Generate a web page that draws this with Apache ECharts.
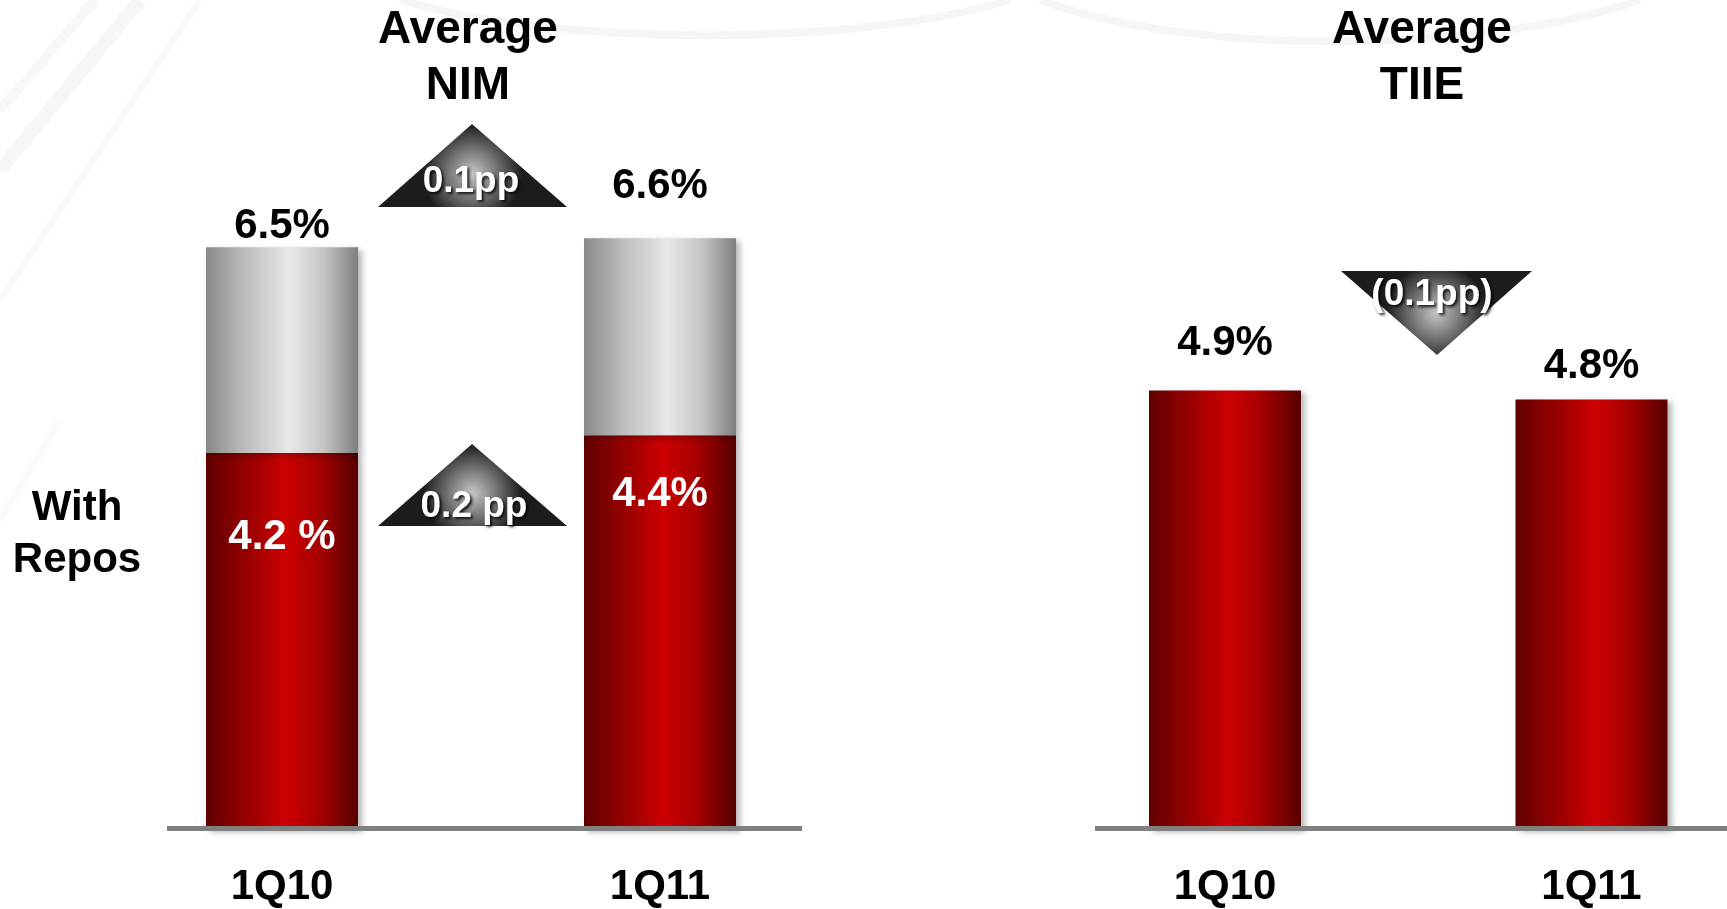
<!DOCTYPE html>
<html>
<head>
<meta charset="utf-8">
<script src="https://cdn.jsdelivr.net/npm/echarts@6/dist/echarts.min.js"></script>
<style>
html,body{margin:0;padding:0;background:#fff;}
#chart{width:1727px;height:909px;}
</style>
</head>
<body>
<div id="chart"></div>
<script>
// ---- data ----
var categories = ['1Q10', '1Q11'];
var nimTotal = [6.5, 6.6];          // Average NIM (top labels)
var nimWithRepos = [4.2, 4.4];      // With Repos (red segment)
var nimRepoLabels = ['4.2 %', '4.4%'];
var tiie = [4.9, 4.8];              // Average TIIE
var deltaLabels = ['0.1pp', '0.2 pp', '(0.1pp)'];
var panelTitles = ['Average\nNIM', 'Average\nTIIE'];
var sideLabel = 'With\nRepos';

var nimRest = nimTotal.map(function (t, i) { return +(t - nimWithRepos[i]).toFixed(1); });

// label offsets (style only)
var nimTopDist = [0, 31];
var nimRepoDist = [63, 38];
var tiieDist = [26, 12];

var FONT = '"Liberation Sans", Arial, sans-serif';

var redGrad = new echarts.graphic.LinearGradient(0, 0, 1, 0, [
  { offset: 0, color: '#600000' },
  { offset: 0.22, color: '#8e0000' },
  { offset: 0.52, color: '#cc0000' },
  { offset: 0.74, color: '#a80000' },
  { offset: 1, color: '#560000' }
]);
var greyGrad = new echarts.graphic.LinearGradient(0, 0, 1, 0, [
  { offset: 0, color: '#888888' },
  { offset: 0.25, color: '#bcbcbc' },
  { offset: 0.55, color: '#e8e8e8' },
  { offset: 0.78, color: '#c4c4c4' },
  { offset: 1, color: '#7e7e7e' }
]);
var barShadow = { shadowColor: 'rgba(0,0,0,0.28)', shadowBlur: 6, shadowOffsetX: 4, shadowOffsetY: 3 };

function triGrad(cy) {
  return new echarts.graphic.RadialGradient(0.5, cy, 0.6, [
    { offset: 0, color: '#c6c6c6' },
    { offset: 0.45, color: '#7c7c7c' },
    { offset: 1, color: '#1c1c1c' }
  ]);
}
function triText(txt, x, y) {
  return {
    type: 'text', x: x, y: y, z: 20,
    style: {
      text: txt, fill: '#ffffff', font: 'bold 37px ' + FONT,
      textAlign: 'center', textVerticalAlign: 'middle',
      textShadowColor: 'rgba(0,0,0,0.85)', textShadowBlur: 3, textShadowOffsetX: 2, textShadowOffsetY: 2
    }
  };
}
function titleText(txt, x, y, size, lh) {
  return {
    type: 'text', x: x, y: y, z: 20,
    style: {
      text: txt, fill: '#000', font: 'bold ' + size + 'px ' + FONT,
      textAlign: 'center', textVerticalAlign: 'middle', lineHeight: lh
    }
  };
}
function withDist(values, dists) {
  return values.map(function (v, i) { return { value: v, label: { distance: dists[i] } }; });
}

var labelStyle = { fontFamily: FONT, fontWeight: 'bold', fontSize: 42, color: '#000' };

var chart = echarts.init(document.getElementById('chart'), null, { renderer: 'canvas' });

var option = {
  backgroundColor: '#ffffff',
  animation: false,
  grid: [
    { left: 93, width: 756, top: 113, bottom: 80 },
    { left: 1225, width: 366.5, top: 113, bottom: 80 }
  ],
  xAxis: [
    {
      type: 'category', gridIndex: 0, data: categories, boundaryGap: true,
      axisLine: { show: false }, axisTick: { show: false },
      axisLabel: Object.assign({ margin: 37 }, labelStyle)
    },
    {
      type: 'category', gridIndex: 1, data: categories, boundaryGap: false,
      axisLine: { show: false }, axisTick: { show: false },
      axisLabel: Object.assign({ margin: 37 }, labelStyle)
    }
  ],
  yAxis: [0, 1].map(function (g) {
    return { type: 'value', gridIndex: g, min: 0, max: 8, show: false, splitLine: { show: false } };
  }),
  series: [
    {
      type: 'bar', name: 'With Repos', stack: 'nim', xAxisIndex: 0, yAxisIndex: 0,
      barWidth: 152, data: withDist(nimWithRepos, nimRepoDist),
      itemStyle: Object.assign({ color: redGrad }, barShadow),
      label: {
        show: true, position: 'insideTop',
        fontFamily: FONT, fontWeight: 'bold', fontSize: 42, color: '#fff',
        formatter: function (p) { return nimRepoLabels[p.dataIndex]; }
      }
    },
    {
      type: 'bar', name: 'Average NIM', stack: 'nim', xAxisIndex: 0, yAxisIndex: 0,
      barWidth: 152, data: withDist(nimRest, nimTopDist),
      itemStyle: Object.assign({ color: greyGrad }, barShadow),
      label: Object.assign({
        show: true, position: 'top',
        formatter: function (p) { return nimTotal[p.dataIndex].toFixed(1) + '%'; }
      }, labelStyle)
    },
    {
      type: 'bar', name: 'Average TIIE', xAxisIndex: 1, yAxisIndex: 1, clip: false,
      barWidth: 152, data: withDist(tiie, tiieDist),
      itemStyle: Object.assign({ color: redGrad }, barShadow),
      label: Object.assign({
        show: true, position: 'top',
        formatter: function (p) { return tiie[p.dataIndex].toFixed(1) + '%'; }
      }, labelStyle)
    }
  ],
  graphic: [
    // faint background swooshes
    { type: 'bezierCurve', z: -10, shape: { x1: 400, y1: 0, cpx1: 560, cpy1: 48, cpx2: 860, cpy2: 46, x2: 1010, y2: 0 },
      style: { stroke: 'rgba(0,0,0,0.04)', lineWidth: 8, fill: null } },
    { type: 'bezierCurve', z: -10, shape: { x1: 1040, y1: 0, cpx1: 1200, cpy1: 60, cpx2: 1500, cpy2: 50, x2: 1640, y2: 0 },
      style: { stroke: 'rgba(0,0,0,0.04)', lineWidth: 8, fill: null } },
    { type: 'line', z: -10, shape: { x1: 0, y1: 170, x2: 140, y2: 0 }, style: { stroke: 'rgba(0,0,0,0.035)', lineWidth: 14 } },
    { type: 'line', z: -10, shape: { x1: 0, y1: 110, x2: 95, y2: 0 }, style: { stroke: 'rgba(0,0,0,0.03)', lineWidth: 10 } },
    { type: 'line', z: -10, shape: { x1: 0, y1: 300, x2: 200, y2: 0 }, style: { stroke: 'rgba(0,0,0,0.025)', lineWidth: 8 } },
    { type: 'line', z: -10, shape: { x1: 0, y1: 520, x2: 60, y2: 420 }, style: { stroke: 'rgba(0,0,0,0.02)', lineWidth: 8 } },
    // baselines
    { type: 'rect', z: 5, shape: { x: 167, y: 826, width: 635, height: 5 }, style: { fill: '#808080' } },
    { type: 'rect', z: 5, shape: { x: 1095, y: 826, width: 632, height: 5 }, style: { fill: '#808080' } },
    // titles
    titleText(panelTitles[0], 468, 58, 46, 56),
    titleText(panelTitles[1], 1422, 58, 46, 56),
    titleText(sideLabel, 77, 534, 42, 52),
    // change triangles
    { type: 'polygon', z: 10, shape: { points: [[472, 124], [378, 207], [567, 207]] }, style: { fill: triGrad(0.6) } },
    triText(deltaLabels[0], 471, 182),
    { type: 'polygon', z: 10, shape: { points: [[472, 444], [378, 526], [567, 526]] }, style: { fill: triGrad(0.6) } },
    triText(deltaLabels[1], 474, 507),
    { type: 'polygon', z: 10, shape: { points: [[1341, 271], [1532, 271], [1437, 355]] }, style: { fill: triGrad(0.5) } },
    triText(deltaLabels[2], 1432, 295)
  ]
};
chart.setOption(option);
</script>
</body>
</html>
